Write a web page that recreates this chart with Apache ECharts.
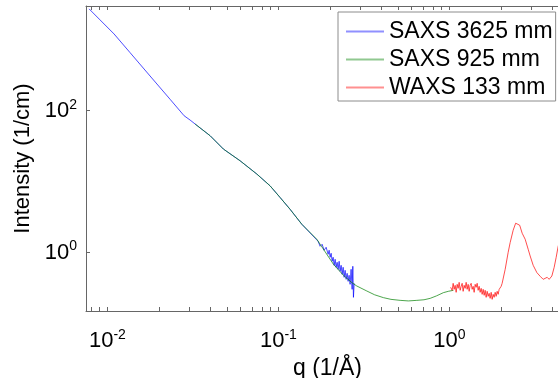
<!DOCTYPE html>
<html>
<head>
<meta charset="utf-8">
<script src="https://cdn.jsdelivr.net/npm/echarts@6/dist/echarts.min.js"></script>
<style>
  html, body { margin: 0; padding: 0; background: #fff; }
  #chart { width: 558px; height: 378px; }
</style>
</head>
<body>
<div id="chart"></div>
<script>
// SAXS 3625 mm (blue)
var saxsLongQ = [0.00782, 0.00906, 0.01094, 0.01358, 0.01777, 0.02327, 0.0281, 0.03046, 0.03358, 0.0399,
  0.0477, 0.0597, 0.0748, 0.0894, 0.1023, 0.1169, 0.137, 0.1706, 0.1753, 0.1801, 0.185, 0.1901, 0.1953,
  0.198, 0.2006, 0.2034, 0.2061, 0.2089, 0.2117, 0.2146, 0.2175, 0.2204, 0.2234, 0.2265, 0.2295, 0.2326,
  0.2358, 0.239, 0.2422, 0.2455, 0.2488, 0.2522, 0.2556, 0.259, 0.2626, 0.2661, 0.2698, 0.2723, 0.2746,
  0.2772];
var saxsLongI = [2730, 1910, 1211, 659, 309, 145, 85, 73.9, 61.4, 44.4,
  28.8, 19.7, 12.8, 8.73, 5.98, 4.09, 2.51, 1.444, 1.227, 1.31, 1.078, 1.188, 0.946,
  1.078, 0.858, 0.977, 0.754, 0.858, 0.6615, 0.804, 0.62, 0.7295, 0.581, 0.754, 0.5444, 0.6615,
  0.4938, 0.62, 0.4478, 0.5623, 0.4196, 0.5101, 0.393, 0.478, 0.3566, 0.581, 0.3031, 0.6405, 0.2337,
  0.3684];

// SAXS 925 mm (green)
var saxsMidQ = [0.0326, 0.0399, 0.0477, 0.0597, 0.0748, 0.0894, 0.1023, 0.1169, 0.137, 0.1677,
  0.2098, 0.24, 0.2687, 0.2874, 0.3289, 0.365, 0.4112, 0.455, 0.5148, 0.575, 0.6446, 0.71, 0.7714,
  0.84, 0.9224, 0.99, 1.055];
var saxsMidI = [64.9, 44.4, 28.8, 19.7, 12.8, 8.73, 5.98, 4.09, 2.51, 1.54,
  0.684, 0.478, 0.377, 0.3375, 0.2869, 0.254, 0.2314, 0.219, 0.212, 0.208, 0.212, 0.216, 0.2262,
  0.245, 0.2723, 0.285, 0.2935];

// WAXS 133 mm (red)
var waxsQ = [1.0163, 1.037, 1.0511, 1.0653, 1.0797, 1.0943, 1.1092, 1.1242, 1.1394, 1.1549, 1.1706,
  1.1864, 1.2025, 1.2187, 1.2353, 1.252, 1.269, 1.2861, 1.3036, 1.3213, 1.3392,
  1.3573, 1.3758, 1.3944, 1.4133, 1.4325, 1.452, 1.4715, 1.4915, 1.5117, 1.5323,
  1.553, 1.5741, 1.5954, 1.617, 1.6389, 1.6612, 1.6837, 1.7065, 1.7297, 1.7533,
  1.7769, 1.8011, 1.8254, 1.8504, 1.8752, 1.9006, 1.9264, 1.953, 1.979, 2.0056, 2.033,
  2.1174, 2.2047, 2.2646, 2.358, 2.4387, 2.499, 2.5739, 2.662, 2.7717, 2.8858, 2.9645, 3.0868, 3.2443,
  3.3918, 3.5318, 3.6277, 3.7268, 3.8282, 3.9702, 4.096, 4.2073, 4.3223, 4.4404];
var waxsI = [0.3236, 0.2935, 0.3684, 0.3031, 0.3452, 0.275, 0.3566, 0.3131, 0.3805, 0.2935, 0.3342,
  0.3684, 0.2841, 0.3452, 0.3131, 0.3805, 0.3031, 0.3566, 0.2841, 0.3452, 0.3684,
  0.3031, 0.3342, 0.275, 0.3566, 0.3236, 0.3684, 0.2935, 0.3342, 0.275, 0.3131,
  0.2576, 0.3031, 0.2494, 0.2935, 0.2337, 0.2841, 0.2414, 0.2662, 0.2262, 0.275,
  0.2189, 0.2576, 0.2337, 0.275, 0.2414, 0.2841, 0.2576, 0.3031, 0.2841, 0.3342, 0.3684,
  0.5808, 1.0098, 1.384, 2.065, 2.594, 2.705, 2.43, 1.873, 1.541, 1.113, 0.895, 0.6615, 0.522,
  0.4627, 0.4196, 0.4062, 0.4478, 0.4196, 0.4673, 0.62, 0.858, 1.227, 1.541];

var seriesNames = ['SAXS 3625 mm', 'SAXS 925 mm', 'WAXS 133 mm'];
var lineColors = ['#0000ff', '#008000', '#ff0000'];
var keyColors = ['#9090ff', '#90c890', '#ff9090'];
var xMajor = [0.01, 0.1, 1];
var yMajor = [1, 100];

function zip(a, b) {
  return a.map(function (v, i) { return [v, b[i]] })
}

// minor ticks 1..9 per decade
var xMinor = [];
for (var d = -3; d <= 0; d++) {
  for (var k = 1; k <= 9; k++) {
    var v = k * Math.pow(10, d);
    if (v >= 0.0075 && v <= 5) xMinor.push(+v.toPrecision(3));
  }
}

var font = 'Liberation Sans';
var axisColor = '#666';
function powLabel(v) {
  return '{b|10}{e|' + Math.round(Math.log10(v)) + '}'
}
var labelRich = {
  b: { fontSize: 22, fontFamily: font, color: '#000' },
  e: { fontSize: 14, fontFamily: font, color: '#000', padding: [0, 0, 12, 0] }
};

var chart = echarts.init(document.getElementById('chart'));
var option = {
  animation: false,
  grid: { left: 86, top: 6, right: -11, bottom: 67, outerBoundsMode: 'none' },
  legend: {
    data: seriesNames.map(function (n, i) {
      return { name: n, itemStyle: { color: keyColors[i], borderWidth: 0 } }
    }),
    orient: 'vertical',
    left: 338,
    top: 12,
    padding: [8, 3, 2, 8],
    icon: 'rect',
    itemWidth: 38,
    itemHeight: 2,
    itemGap: 5,
    backgroundColor: '#fff',
    borderColor: '#8c8c8c',
    borderWidth: 1,
    textStyle: { fontSize: 23, fontFamily: font, color: '#000', lineHeight: 23 }
  },
  xAxis: [{
    type: 'log',
    min: 0.0075,
    max: 5,
    name: 'q (1/Å)',
    nameLocation: 'middle',
    nameGap: 39,
    nameTextStyle: { fontSize: 23, fontFamily: font, color: '#000' },
    axisLine: { lineStyle: { color: axisColor } },
    axisTick: { inside: true, length: 4, customValues: xMinor, lineStyle: { color: axisColor } },
    axisLabel: { customValues: xMajor, formatter: powLabel, rich: labelRich, margin: 17 },
    splitLine: { show: false }
  }, {
    type: 'log',
    min: 0.0075,
    max: 5,
    position: 'top',
    axisLine: { lineStyle: { color: axisColor } },
    axisTick: { inside: true, length: 4, customValues: xMinor, lineStyle: { color: axisColor } },
    axisLabel: { show: false },
    splitLine: { show: false }
  }],
  yAxis: {
    type: 'log',
    min: 0.15,
    max: 3000,
    name: 'Intensity (1/cm)',
    nameLocation: 'middle',
    nameRotate: 90,
    nameGap: 49,
    nameTextStyle: { fontSize: 22, fontFamily: font, color: '#000' },
    axisLine: { show: true, lineStyle: { color: axisColor } },
    axisTick: { inside: true, length: 4, customValues: yMajor, lineStyle: { color: axisColor } },
    axisLabel: { customValues: yMajor, formatter: powLabel, rich: labelRich, margin: 9 },
    splitLine: { show: false }
  },
  series: [
    { data: zip(saxsLongQ, saxsLongI) },
    { data: zip(saxsMidQ, saxsMidI) },
    { data: zip(waxsQ, waxsI) }
  ].map(function (s, i) {
    s.name = seriesNames[i];
    s.type = 'line';
    s.symbol = 'none';
    s.lineStyle = { color: lineColors[i], width: 0.7 };
    s.itemStyle = { color: keyColors[i] };
    return s
  })
};
chart.setOption(option);
</script>
</body>
</html>
